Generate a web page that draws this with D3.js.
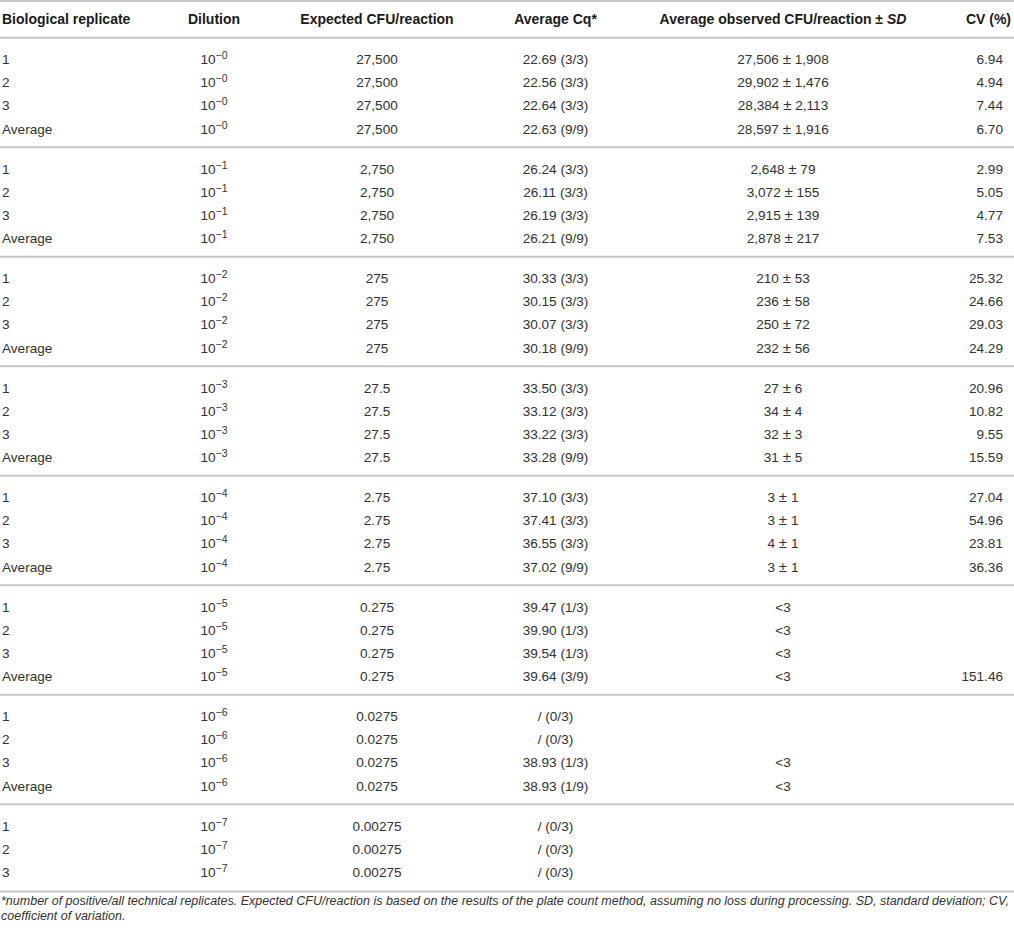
<!DOCTYPE html>
<html>
<head>
<meta charset="utf-8">
<script src="https://cdn.jsdelivr.net/npm/d3@7/dist/d3.min.js"></script>
<style>
  html, body { margin: 0; padding: 0; background: #fff; }
  svg { display: block; font-family: "Liberation Sans", Arial, Helvetica, sans-serif; }
</style>
</head>
<body>
<svg id="chart" width="1014" height="931"></svg>
<script>
// ---------- data ----------
const headers = ["Biological replicate", "Dilution", "Expected CFU/reaction", "Average Cq*", "Average observed CFU/reaction \u00b1 ", "CV (%)"];
const replicateLabels = ["1", "2", "3", "Average"];
const dilutionExponents = ["0", "1", "2", "3", "4", "5", "6", "7"];
const groupRowCounts = [4, 4, 4, 4, 4, 4, 4, 3];
const expectedCFU = ["27,500", "2,750", "275", "27.5", "2.75", "0.275", "0.0275", "0.00275"];
const averageCq = [
  ["22.69 (3/3)", "22.56 (3/3)", "22.64 (3/3)", "22.63 (9/9)"],
  ["26.24 (3/3)", "26.11 (3/3)", "26.19 (3/3)", "26.21 (9/9)"],
  ["30.33 (3/3)", "30.15 (3/3)", "30.07 (3/3)", "30.18 (9/9)"],
  ["33.50 (3/3)", "33.12 (3/3)", "33.22 (3/3)", "33.28 (9/9)"],
  ["37.10 (3/3)", "37.41 (3/3)", "36.55 (3/3)", "37.02 (9/9)"],
  ["39.47 (1/3)", "39.90 (1/3)", "39.54 (1/3)", "39.64 (3/9)"],
  ["/ (0/3)", "/ (0/3)", "38.93 (1/3)", "38.93 (1/9)"],
  ["/ (0/3)", "/ (0/3)", "/ (0/3)"]
];
const observedCFU = [
  ["27,506 \u00b1 1,908", "29,902 \u00b1 1,476", "28,384 \u00b1 2,113", "28,597 \u00b1 1,916"],
  ["2,648 \u00b1 79", "3,072 \u00b1 155", "2,915 \u00b1 139", "2,878 \u00b1 217"],
  ["210 \u00b1 53", "236 \u00b1 58", "250 \u00b1 72", "232 \u00b1 56"],
  ["27 \u00b1 6", "34 \u00b1 4", "32 \u00b1 3", "31 \u00b1 5"],
  ["3 \u00b1 1", "3 \u00b1 1", "4 \u00b1 1", "3 \u00b1 1"],
  ["<3", "<3", "<3", "<3"],
  ["", "", "<3", "<3"],
  ["", "", ""]
];
const cvValues = [
  ["6.94", "4.94", "7.44", "6.70"],
  ["2.99", "5.05", "4.77", "7.53"],
  ["25.32", "24.66", "29.03", "24.29"],
  ["20.96", "10.82", "9.55", "15.59"],
  ["27.04", "54.96", "23.81", "36.36"],
  ["", "", "", "151.46"],
  ["", "", "", ""],
  ["", "", ""]
];
const footnoteLines = [
  "*number of positive/all technical replicates. Expected CFU/reaction is based on the results of the plate count method, assuming no loss during processing. SD, standard deviation; CV,",
  "coefficient of variation."
];

// ---------- layout ----------
const W = 1014;
const svg = d3.select("#chart");
const FS = 13.6;
const HFS = 14;
const textColor = "#333";
const ruleColor = "#c6c6c6";

// column anchors
const colX = d3.scaleOrdinal().domain(d3.range(6)).range([2, 214, 377, 555.5, 783, 1003]);
const colAnchor = ["start", "middle", "middle", "middle", "middle", "end"];

// vertical scales: group offset and row offset within a group
const yGroup = d3.scaleLinear().domain([0, 1]).range([37.7, 147.2]);
const yRow = d3.scaleLinear().domain([0, 1]).range([26.3, 49.5]);

// flat row records
const rows = [];
groupRowCounts.forEach((n, g) => {
  for (let r = 0; r < n; r++) {
    rows.push({
      g, r,
      cells: [replicateLabels[r], dilutionExponents[g], expectedCFU[g], averageCq[g][r], observedCFU[g][r], cvValues[g][r]]
    });
  }
});

// rules
const ruleYs = [1].concat(groupRowCounts.map((n, g) => yGroup(g)));
const lastG = groupRowCounts.length - 1;
ruleYs.push(yGroup(lastG) + yRow(groupRowCounts[lastG] - 1) + 14.6);
svg.append("g").selectAll("line").data(ruleYs).join("line")
  .attr("x1", 0).attr("x2", W)
  .attr("y1", d => d).attr("y2", d => d)
  .attr("stroke", ruleColor).attr("stroke-width", 2);

// header
const hdr = svg.append("g").attr("font-weight", "bold").attr("font-size", HFS).attr("fill", "#1a1a1a");
headers.forEach((h, i) => {
  const t = hdr.append("text")
    .attr("x", i === 5 ? 1011 : colX(i))
    .attr("y", 23.5)
    .attr("text-anchor", colAnchor[i])
    .text(h);
  if (i === 4) t.append("tspan").attr("font-style", "italic").text("SD");
});

// body
const body = svg.append("g").attr("font-size", FS).attr("fill", textColor);
const rowG = body.selectAll("g.row").data(rows).join("g")
  .attr("class", "row")
  .attr("transform", d => `translate(0,${yGroup(d.g) + yRow(d.r)})`);

rowG.each(function (d) {
  const sel = d3.select(this);
  d.cells.forEach((v, i) => {
    if (v === "" || v == null) return;
    const t = sel.append("text")
      .attr("x", colX(i))
      .attr("y", 0)
      .attr("text-anchor", colAnchor[i]);
    if (i === 1) {
      t.append("tspan").text("10");
      t.append("tspan").attr("font-size", 10.5).attr("dy", -5).text("\u2212" + v);
    } else if (i === 4 && v.indexOf("\u00b1") >= 0) {
      const parts = v.split(" \u00b1 ");
      t.append("tspan").text(parts[0]);
      t.append("tspan").attr("dx", 2).text("\u00b1");
      t.append("tspan").attr("dx", 2).text(" " + parts[1]);
      t.text(null);
      t.append("tspan").text(parts[0] + " ");
      t.append("tspan").attr("font-size", FS + 1.5).text("\u00b1");
      t.append("tspan").text(" " + parts[1]);
    } else {
      t.text(v);
    }
  });
});

// footnote
const foot = svg.append("g").attr("font-style", "italic").attr("fill", textColor);
const f1 = foot.append("text").attr("x", 1).attr("y", 905).attr("font-size", 11).text(footnoteLines[0]);
const w1 = f1.node().getComputedTextLength();
const fFS = 11 * 1008 / w1;
f1.attr("font-size", fFS);
foot.append("text").attr("x", 1).attr("y", 919.5).attr("font-size", fFS).text(footnoteLines[1]);
</script>
</body>
</html>
